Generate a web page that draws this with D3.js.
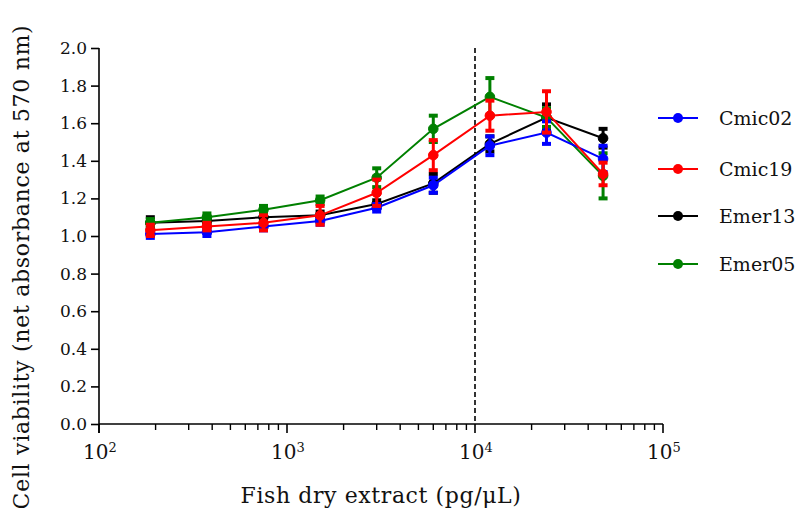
<!DOCTYPE html>
<html>
<head>
<meta charset="utf-8">
<script src="https://cdn.jsdelivr.net/npm/d3@7"></script>
<style>
  body { margin: 0; background: #fff; }
  svg text { font-family: "DejaVu Serif", "Liberation Serif", serif; fill: #111; }
</style>
</head>
<body>
<svg width="801" height="508"></svg>
<script>
// concentrations (pg/uL), two-fold dilution series
const conc = [187.5, 375, 750, 1500, 3000, 6000, 12000, 24000, 48000];

const cmic02 = [1.01, 1.02, 1.05, 1.08, 1.15, 1.27, 1.48, 1.55, 1.41];
const cmic02Sd = [0.02, 0.02, 0.02, 0.02, 0.02, 0.04, 0.05, 0.06, 0.07];
const cmic19 = [1.03, 1.05, 1.07, 1.11, 1.23, 1.43, 1.64, 1.66, 1.33];
const cmic19Sd = [0.03, 0.02, 0.04, 0.05, 0.07, 0.08, 0.08, 0.11, 0.06];
const emer13 = [1.07, 1.08, 1.10, 1.11, 1.17, 1.28, 1.49, 1.63, 1.52];
const emer13Sd = [0.03, 0.02, 0.02, 0.02, 0.02, 0.05, 0.04, 0.07, 0.05];
const emer05 = [1.07, 1.10, 1.14, 1.19, 1.31, 1.57, 1.74, 1.63, 1.32];
const emer05Sd = [0.02, 0.02, 0.02, 0.02, 0.05, 0.07, 0.10, 0.05, 0.12];

const yTicks = [0, 0.2, 0.4, 0.6, 0.8, 1.0, 1.2, 1.4, 1.6, 1.8, 2.0];
const xMajor = [100, 1000, 10000, 100000];
const xExp = ['2', '3', '4', '5'];

// legend order, drawing order is different (red ends on top)
const series = [
  {name: 'Cmic02', vals: cmic02, sd: cmic02Sd, color: '#0000ff'},
  {name: 'Cmic19', vals: cmic19, sd: cmic19Sd, color: '#ff0000'},
  {name: 'Emer13', vals: emer13, sd: emer13Sd, color: '#000000'},
  {name: 'Emer05', vals: emer05, sd: emer05Sd, color: '#008000'}
];
const drawOrder = [2, 3, 0, 1];

const svg = d3.select('svg');
const pLeft = 99, pRight = 663, pTop = 48, pBottom = 424;

const x = d3.scaleLog().domain([100, 100000]).range([pLeft, pRight]);
const y = d3.scaleLinear().domain([0, 2]).range([pBottom, pTop]);

// y axis
const yAxis = svg.append('g')
  .attr('transform', `translate(${pLeft},0)`)
  .call(d3.axisLeft(y).tickValues(yTicks).tickFormat(d3.format('.1f')).tickSize(8).tickPadding(4));
yAxis.select('.domain').attr('d', `M0,${pTop}V${pBottom + 9}`);
yAxis.selectAll('path, line').attr('stroke', '#000').attr('stroke-width', 1.6);
yAxis.selectAll('text').attr('font-size', 17).style('font-family', '"DejaVu Serif", serif');

// x axis with minor ticks
let minor = [];
for (let e = 2; e < 5; e++) {
  for (let m = 2; m <= 9; m++) minor.push(m * Math.pow(10, e));
}
const xg = svg.append('g').attr('transform', `translate(0,${pBottom})`);
xg.append('line').attr('x1', pLeft).attr('x2', pRight).attr('stroke', '#000').attr('stroke-width', 1.6);
xg.selectAll(null).data(minor).enter().append('line')
  .attr('x1', d => x(d)).attr('x2', d => x(d))
  .attr('y1', 0).attr('y2', 6)
  .attr('stroke', '#000').attr('stroke-width', 1.4);
xg.selectAll(null).data(xMajor).enter().append('line')
  .attr('x1', d => x(d)).attr('x2', d => x(d))
  .attr('y1', 0).attr('y2', 9)
  .attr('stroke', '#000').attr('stroke-width', 1.6);
const xl = xg.selectAll(null).data(xMajor).enter().append('text')
  .attr('x', d => x(d) - 16).attr('y', 35)
  .attr('font-size', 20);
xl.append('tspan').text('10');
xl.append('tspan').attr('dy', -7).attr('font-size', 13).text((d, i) => xExp[i]);

// dashed line at 10^4
svg.append('line')
  .attr('x1', x(10000)).attr('x2', x(10000))
  .attr('y1', pTop).attr('y2', pBottom)
  .attr('stroke', '#000').attr('stroke-width', 1.6)
  .attr('stroke-dasharray', '5,3');

// series
const line = d3.line().x(d => x(d.c)).y(d => y(d.v));
drawOrder.forEach(i => {
  const s = series[i];
  const pts = conc.map((c, j) => ({c: c, v: s.vals[j], sd: s.sd[j]}));
  const g = svg.append('g');
  g.append('path').datum(pts)
    .attr('d', line).attr('fill', 'none')
    .attr('stroke', s.color).attr('stroke-width', 2);
  g.selectAll(null).data(pts).enter().append('line')
    .attr('x1', d => x(d.c)).attr('x2', d => x(d.c))
    .attr('y1', d => y(d.v - d.sd)).attr('y2', d => y(d.v + d.sd))
    .attr('stroke', s.color).attr('stroke-width', 3);
  [-1, 1].forEach(sign => {
    g.selectAll(null).data(pts).enter().append('line')
      .attr('x1', d => x(d.c) - 4.5).attr('x2', d => x(d.c) + 4.5)
      .attr('y1', d => y(d.v + sign * d.sd))
      .attr('y2', d => y(d.v + sign * d.sd))
      .attr('stroke', s.color).attr('stroke-width', 4);
  });
  g.selectAll(null).data(pts).enter().append('circle')
    .attr('cx', d => x(d.c)).attr('cy', d => y(d.v)).attr('r', 4.8)
    .attr('fill', s.color).attr('stroke', s.color).attr('stroke-width', 1);
});

// legend
const lg = svg.append('g');
const legY = [118, 169, 216, 264];
series.forEach((s, i) => {
  lg.append('line').attr('x1', 658).attr('x2', 698)
    .attr('y1', legY[i]).attr('y2', legY[i])
    .attr('stroke', s.color).attr('stroke-width', 2);
  lg.append('circle').attr('cx', 678).attr('cy', legY[i]).attr('r', 5).attr('fill', s.color);
  lg.append('text').attr('x', 719).attr('y', legY[i] + 7)
    .attr('font-size', 19).text(s.name);
});

// axis titles
svg.append('text')
  .attr('x', 381).attr('y', 503)
  .attr('text-anchor', 'middle').attr('font-size', 22)
  .attr('letter-spacing', 0.6)
  .text('Fish dry extract (pg/\u03bcL)');
svg.append('text')
  .attr('transform', 'translate(29,267) rotate(-90)')
  .attr('text-anchor', 'middle').attr('font-size', 22)
  .attr('letter-spacing', 0.7)
  .text('Cell viability (net absorbance at 570 nm)');
</script>
</body>
</html>
